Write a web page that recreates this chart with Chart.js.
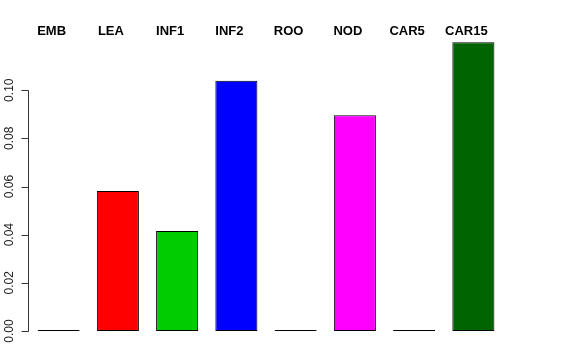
<!DOCTYPE html>
<html>
<head>
<meta charset="utf-8">
<script src="https://cdn.jsdelivr.net/npm/chart.js@4.4.0/dist/chart.umd.min.js"></script>
<style>
  html, body { margin: 0; padding: 0; background: #fff; }
</style>
</head>
<body>
<canvas id="chart" width="576" height="360"></canvas>
<script>
// données du graphique
const categories = ['EMB', 'LEA', 'INF1', 'INF2', 'ROO', 'NOD', 'CAR5', 'CAR15'];
const values = [0, 0.0581, 0.0415, 0.1039, 0, 0.0896, 0, 0.1199];
const barColors = ['#FFFFFF', '#FF0000', '#00CD00', '#0000FF', '#FFFFFF', '#FF00FF', '#FFFFFF', '#006400'];
const yTicks = [0, 0.02, 0.04, 0.06, 0.08, 0.10];
const yTickLabels = ['0.00', '0.02', '0.04', '0.06', '0.08', '0.10'];

const FONT = '"Liberation Sans", Arial, Helvetica, sans-serif';

// axe Y façon R + étiquettes en haut
const rAxisPlugin = {
    id: 'rAxis',
    afterDraw(chart) {
        const ctx = chart.ctx;
        const y = chart.scales.y;
        const x = chart.scales.x;
        const axisX = chart.chartArea.left - 0.5;

        ctx.save();
        ctx.strokeStyle = '#333';
        ctx.lineWidth = 1;
        ctx.beginPath();
        ctx.moveTo(axisX, Math.round(y.getPixelForValue(yTicks[0])) + 0.5);
        ctx.lineTo(axisX, Math.round(y.getPixelForValue(yTicks[yTicks.length - 1])) + 0.5);
        yTicks.forEach(v => {
            const py = Math.round(y.getPixelForValue(v)) + 0.5;
            ctx.moveTo(axisX, py);
            ctx.lineTo(axisX - 7, py);
        });
        ctx.stroke();

        // étiquettes tournées
        ctx.fillStyle = '#222';
        ctx.font = '12px ' + FONT;
        ctx.textAlign = 'center';
        ctx.textBaseline = 'middle';
        yTicks.forEach((v, i) => {
            const py = y.getPixelForValue(v);
            ctx.save();
            ctx.translate(10, py);
            ctx.rotate(-Math.PI / 2);
            ctx.fillText(yTickLabels[i], 0, 0);
            ctx.restore();
        });

        // noms des catégories
        ctx.fillStyle = '#000';
        ctx.font = 'bold 13px ' + FONT;
        ctx.textAlign = 'center';
        ctx.textBaseline = 'middle';
        categories.forEach((c, i) => {
            ctx.fillText(c, x.getPixelForValue(i) - 7, chart.chartArea.top + 1);
        });
        ctx.restore();
    }
};

new Chart(document.getElementById('chart'), {
    type: 'bar',
    data: {
        labels: categories,
        datasets: [{
            data: values,
            backgroundColor: barColors,
            borderColor: '#000',
            borderWidth: 1,
            borderSkipped: false,
            minBarLength: 1,
            barPercentage: 1,
            categoryPercentage: 0.71
        }]
    },
    options: {
        responsive: false,
        animation: false,
        layout: { padding: { left: 29, right: 73, top: 30, bottom: 29 } },
        plugins: {
            legend: { display: false },
            tooltip: { enabled: false }
        },
        scales: {
            x: { display: false, offset: true },
            y: { display: false, min: 0, max: 0.125 }
        }
    },
    plugins: [rAxisPlugin]
});
</script>
</body>
</html>
